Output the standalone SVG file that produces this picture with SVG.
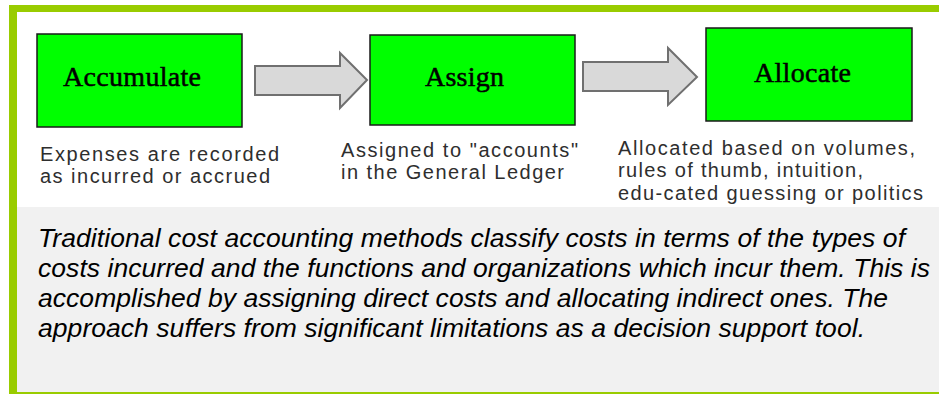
<svg xmlns="http://www.w3.org/2000/svg" width="939" height="394" viewBox="0 0 939 394">
<style>
.box{fill:#00ff00;stroke:#1a1a1a;stroke-width:1.5}
.arrow{fill:#d9d9d9;stroke:#707070;stroke-width:2}
.title{font-family:"Liberation Serif",serif;font-size:28px;fill:#000;stroke:#000;stroke-width:0.5;text-anchor:middle}
.cap{font-family:"Liberation Sans",Arial,sans-serif;font-size:20px;fill:#2e2e2e}
.para{font-family:"Liberation Sans",Arial,sans-serif;font-size:26.5px;font-style:italic;fill:#000}
</style>
<rect x="0" y="0" width="939" height="394" fill="#ffffff"/>
<rect x="17" y="207" width="922" height="186" fill="#f1f1f1"/>
<rect x="9" y="5" width="930" height="7" fill="#99cc00"/>
<rect x="9" y="5" width="8" height="389" fill="#99cc00"/>
<rect x="9" y="392" width="930" height="2" fill="#99cc00"/>
<g id="connectors">
<polygon class="arrow" points="255,66 340,66 340,53 367,80 340,108 340,95 255,95"/>
<polygon class="arrow" points="583,62 668,62 668,48 697,77 668,105 668,91 583,91"/>
</g>
<g id="accumulate">
<rect class="box" x="37" y="34" width="205" height="93"/>
<text class="title" x="132" y="86" textLength="138">Accumulate</text>
<text class="cap" x="40" y="161" textLength="239">Expenses are recorded</text>
<text class="cap" x="40" y="183" textLength="230">as incurred or accrued</text>
</g>
<g id="assign">
<rect class="box" x="370" y="35" width="205" height="90"/>
<text class="title" x="464.5" y="86" textLength="79">Assign</text>
<text class="cap" x="341" y="157" textLength="237">Assigned to "accounts"</text>
<text class="cap" x="341" y="179" textLength="223">in the General Ledger</text>
</g>
<g id="allocate">
<rect class="box" x="706" y="28" width="206" height="93"/>
<text class="title" x="802.5" y="82" textLength="97">Allocate</text>
<text class="cap" x="618" y="155" textLength="297">Allocated based on volumes,</text>
<text class="cap" x="618" y="177" textLength="245">rules of thumb, intuition,</text>
<text class="cap" x="618" y="200" textLength="305">edu-cated guessing or politics</text>
</g>
<g id="description">
<text class="para" x="38" y="247" textLength="867">Traditional cost accounting methods classify costs in terms of the types of</text>
<text class="para" x="38" y="277" textLength="892">costs incurred and the functions and organizations which incur them. This is</text>
<text class="para" x="38" y="307" textLength="850">accomplished by assigning direct costs and allocating indirect ones. The</text>
<text class="para" x="38" y="337" textLength="827">approach suffers from significant limitations as a decision support tool.</text>
</g>
</svg>
